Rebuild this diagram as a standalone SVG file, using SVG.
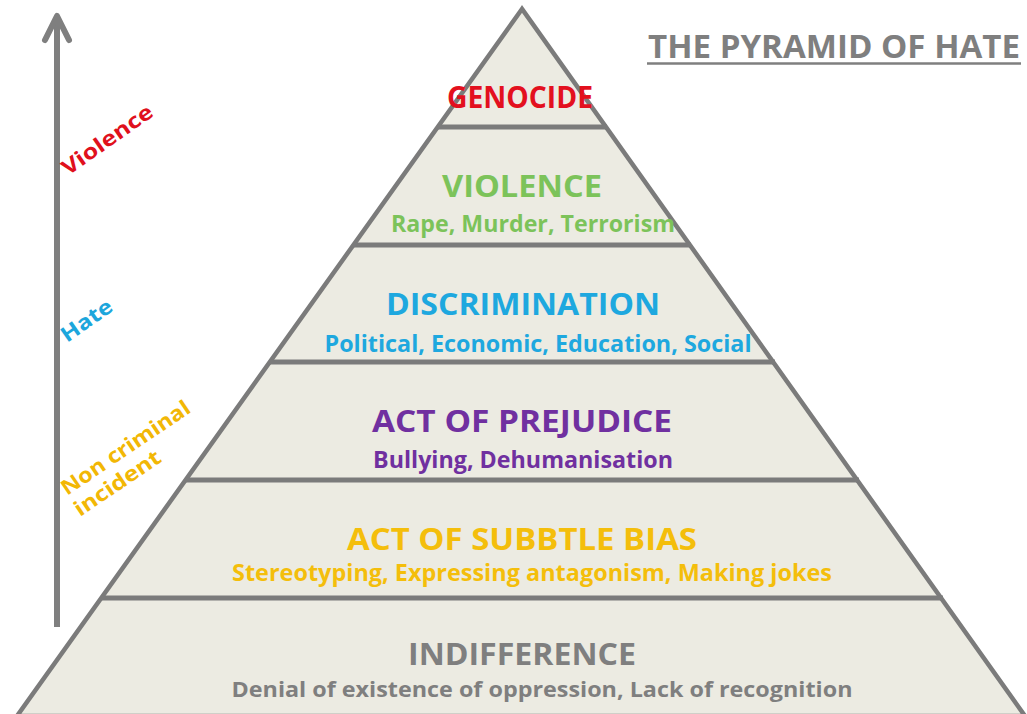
<svg xmlns="http://www.w3.org/2000/svg" width="1027" height="714" viewBox="0 0 1027 714">
<style>
.t{font-family:"Open Sans","Liberation Sans",sans-serif;font-weight:bold;text-anchor:middle}
.h{font-size:30px}
.s{font-size:23px}
.sep{stroke:#7b7b7b;stroke-width:5}
.lbl{font-family:"Open Sans","Liberation Sans",sans-serif;font-weight:bold;font-size:21px}
</style>
<rect width="1027" height="714" fill="#ffffff"/>
<g id="title">
<text class="t" x="834" y="58" font-size="32" fill="#7f7f7f" textLength="372" lengthAdjust="spacingAndGlyphs">THE PYRAMID OF HATE</text>
<line x1="647" y1="63.5" x2="1021" y2="63.5" stroke="#7f7f7f" stroke-width="2.5"/>
</g>
<g id="axis">
<line x1="57" y1="18" x2="57" y2="627" stroke="#7f7f7f" stroke-width="6"/>
<polyline points="45,40 57,16 69,40" fill="none" stroke="#7f7f7f" stroke-width="6" stroke-linecap="round" stroke-linejoin="round"/>
<text class="lbl" transform="translate(68,176) rotate(-35)" fill="#e0101c" textLength="106" lengthAdjust="spacingAndGlyphs">Violence</text>
<text class="lbl" transform="translate(67,343) rotate(-35)" fill="#1ca6dc" textLength="58" lengthAdjust="spacingAndGlyphs">Hate</text>
<text class="lbl" transform="translate(67,496) rotate(-34)" fill="#f2b705" textLength="151" lengthAdjust="spacingAndGlyphs">Non criminal</text>
<text class="lbl" transform="translate(80,517) rotate(-34)" fill="#f2b705" textLength="100" lengthAdjust="spacingAndGlyphs">incident</text>
</g>
<g id="pyramid">
<polygon points="522,9 17,716 1025,716" fill="#ecebe2" stroke="#7b7b7b" stroke-width="4.5" stroke-linejoin="miter"/>
</g>
<g id="connectors">
<line class="sep" x1="437" y1="127" x2="607" y2="127"/>
<line class="sep" x1="353" y1="245" x2="691" y2="245"/>
<line class="sep" x1="269" y1="362" x2="775" y2="362"/>
<line class="sep" x1="185" y1="480" x2="859" y2="480"/>
<line class="sep" x1="101" y1="598" x2="943" y2="598"/>
</g>
<g id="genocide">
<text class="t h" x="520" y="108" fill="#e3101e" textLength="146" lengthAdjust="spacingAndGlyphs">GENOCIDE</text>
</g>
<g id="violence">
<text class="t h" x="522" y="197" fill="#7cc35a" textLength="160" lengthAdjust="spacingAndGlyphs">VIOLENCE</text>
<text class="t s" x="533" y="232" fill="#7cc35a" textLength="284" lengthAdjust="spacingAndGlyphs">Rape, Murder, Terrorism</text>
</g>
<g id="discrimination">
<text class="t h" x="523" y="315" fill="#1ea8df" textLength="274" lengthAdjust="spacingAndGlyphs">DISCRIMINATION</text>
<text class="t s" x="538" y="352" fill="#1ea8df" textLength="427" lengthAdjust="spacingAndGlyphs">Political, Economic, Education, Social</text>
</g>
<g id="prejudice">
<text class="t h" x="522" y="432" fill="#7030a0" textLength="300" lengthAdjust="spacingAndGlyphs">ACT OF PREJUDICE</text>
<text class="t s" x="523" y="468" fill="#7030a0" textLength="300" lengthAdjust="spacingAndGlyphs">Bullying, Dehumanisation</text>
</g>
<g id="subtle-bias">
<text class="t h" x="522" y="550" fill="#f4be0b" textLength="350" lengthAdjust="spacingAndGlyphs">ACT OF SUBBTLE BIAS</text>
<text class="t s" x="532" y="581" fill="#f4be0b" textLength="600" lengthAdjust="spacingAndGlyphs">Stereotyping, Expressing antagonism, Making jokes</text>
</g>
<g id="indifference">
<text class="t h" x="522" y="665" fill="#7f7f7f" textLength="228" lengthAdjust="spacingAndGlyphs">INDIFFERENCE</text>
<text class="t" x="542" y="697" font-size="21" fill="#7f7f7f" textLength="621" lengthAdjust="spacingAndGlyphs">Denial of existence of oppression, Lack of recognition</text>
</g>
</svg>
